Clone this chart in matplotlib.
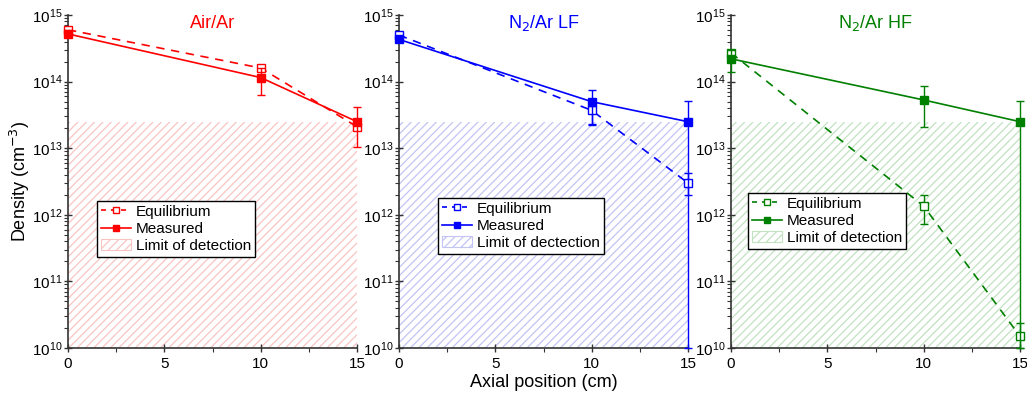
import numpy as np
import matplotlib
matplotlib.use("Agg")
import matplotlib.pyplot as plt
from matplotlib.lines import Line2D
from matplotlib.patches import Patch
from matplotlib.ticker import LogLocator, NullFormatter, MultipleLocator

plt.rcParams['font.family'] = ['Liberation Sans', 'DejaVu Sans']
plt.rcParams['hatch.linewidth'] = 0.9

# Data
positions = [0, 10, 15]
detection_limit = 2.5e13

titles = ["Air/Ar", "N$_2$/Ar LF", "N$_2$/Ar HF"]
colors = ["#ff0000", "#0000ff", "#008000"]
hatch_colors = ["#f9c4c4", "#c4c4f4", "#c2e2c2"]
limit_labels = ["Limit of detection", "Limit of dectection", "Limit of detection"]

# measured values and (lower, upper) bounds
meas_air = [5.2e14, 1.15e14, 2.5e13]
meas_air_lo = [4.6e14, 6.2e13, 1.05e13]
meas_air_hi = [5.9e14, 1.6e14, 4.1e13]
eq_air = [6.0e14, 1.6e14, 2.1e13]
eq_air_lo = [5.4e14, 1.45e14, 1.9e13]
eq_air_hi = [6.6e14, 1.75e14, 2.3e13]

meas_lf = [4.3e14, 5.0e13, 2.5e13]
meas_lf_lo = [3.9e14, 2.2e13, 1e10]
meas_lf_hi = [4.8e14, 7.6e13, 5.1e13]
eq_lf = [5.0e14, 3.7e13, 3.0e12]
eq_lf_lo = [4.4e14, 2.3e13, 2.0e12]
eq_lf_hi = [5.6e14, 4.6e13, 4.2e12]

meas_hf = [2.2e14, 5.3e13, 2.5e13]
meas_hf_lo = [1.4e14, 2.1e13, 1e10]
meas_hf_hi = [3.0e14, 8.6e13, 5.1e13]
eq_hf = [2.7e14, 1.35e12, 1.5e10]
eq_hf_lo = [2.2e14, 7.2e11, 1e10]
eq_hf_hi = [3.0e14, 2.0e12, 2.4e10]

measured = [(meas_air, meas_air_lo, meas_air_hi),
            (meas_lf, meas_lf_lo, meas_lf_hi),
            (meas_hf, meas_hf_lo, meas_hf_hi)]
equilibrium = [(eq_air, eq_air_lo, eq_air_hi),
               (eq_lf, eq_lf_lo, eq_lf_hi),
               (eq_hf, eq_hf_lo, eq_hf_hi)]

legend_pos = [(97, 201), (438, 198), (748, 193)]  # pixel upper-left

fig = plt.figure(figsize=(10.27, 4.01), dpi=100)
lefts = [68, 399, 731]

for i in range(3):
    ax = fig.add_axes([lefts[i] / 1027, 1 - 348 / 401, 289 / 1027, 333 / 401])
    c = colors[i]

    ax.fill_between([0, 15], 1e10, detection_limit, facecolor='none',
                    edgecolor=hatch_colors[i], hatch='////', linewidth=0, zorder=1)

    m, mlo, mhi = measured[i]
    e, elo, ehi = equilibrium[i]
    m = np.array(m); e = np.array(e)
    merr = [m - np.array(mlo), np.array(mhi) - m]
    eerr = [e - np.array(elo), np.array(ehi) - e]

    ax.errorbar(positions, e, yerr=eerr, color=c, linestyle=(0, (5, 4)), lw=1.2,
                marker='s', markersize=6, markerfacecolor='white', markeredgecolor=c,
                capsize=3, elinewidth=1, clip_on=False, zorder=3)
    ax.errorbar(positions, m, yerr=merr, color=c, linestyle='-', lw=1.2,
                marker='s', markersize=6, markerfacecolor=c, markeredgecolor=c,
                capsize=3, elinewidth=1, clip_on=False, zorder=4)

    ax.set_yscale('log')
    ax.set_xlim(0, 15)
    ax.set_ylim(1e10, 1e15)
    ax.spines['top'].set_visible(False)
    ax.spines['right'].set_visible(False)
    for s in ['left', 'bottom']:
        ax.spines[s].set_color('#333333')
        ax.spines[s].set_linewidth(1.2)
    ax.xaxis.set_major_locator(MultipleLocator(5))
    ax.xaxis.set_minor_locator(MultipleLocator(2.5))
    ax.yaxis.set_major_locator(LogLocator(base=10, numticks=10))
    ax.yaxis.set_minor_locator(LogLocator(base=10, subs=np.arange(2, 10), numticks=20))
    ax.yaxis.set_minor_formatter(NullFormatter())
    ax.tick_params(axis='both', which='major', direction='inout', length=6,
                   width=1, color='#333333', labelsize=11)
    ax.tick_params(axis='both', which='minor', direction='out', length=3,
                   width=0.8, color='#333333')
    ax.tick_params(axis='y', pad=1)

    ax.text(0.5, 0.975, titles[i], transform=ax.transAxes, color=c,
            fontsize=13, ha='center', va='center')

    handles = [
        Line2D([], [], color=c, linestyle=(0, (3, 3)), lw=1.2, marker='s', markersize=5,
               markerfacecolor='white', markeredgecolor=c),
        Line2D([], [], color=c, linestyle='-', lw=1.2, marker='s', markersize=5,
               markerfacecolor=c, markeredgecolor=c),
        Patch(facecolor='white', edgecolor=hatch_colors[i], hatch='////', linewidth=0.8),
    ]
    lx, ly = legend_pos[i]
    leg = ax.legend(handles, ["Equilibrium", "Measured", limit_labels[i]],
                    loc='upper left', bbox_to_anchor=(lx / 1027, 1 - ly / 401),
                    bbox_transform=fig.transFigure, fontsize=11, frameon=True,
                    fancybox=False, framealpha=1, edgecolor='black',
                    borderpad=0.25, labelspacing=0.2, handlelength=2.0,
                    handletextpad=0.3, borderaxespad=0)
    leg.get_frame().set_linewidth(1.0)

    if i == 0:
        ax.set_ylabel("Density (cm$^{-3}$)", fontsize=13, labelpad=0)
    if i == 1:
        ax.set_xlabel("Axial position (cm)", fontsize=13, labelpad=2)

fig.savefig("out.png", dpi=100)
